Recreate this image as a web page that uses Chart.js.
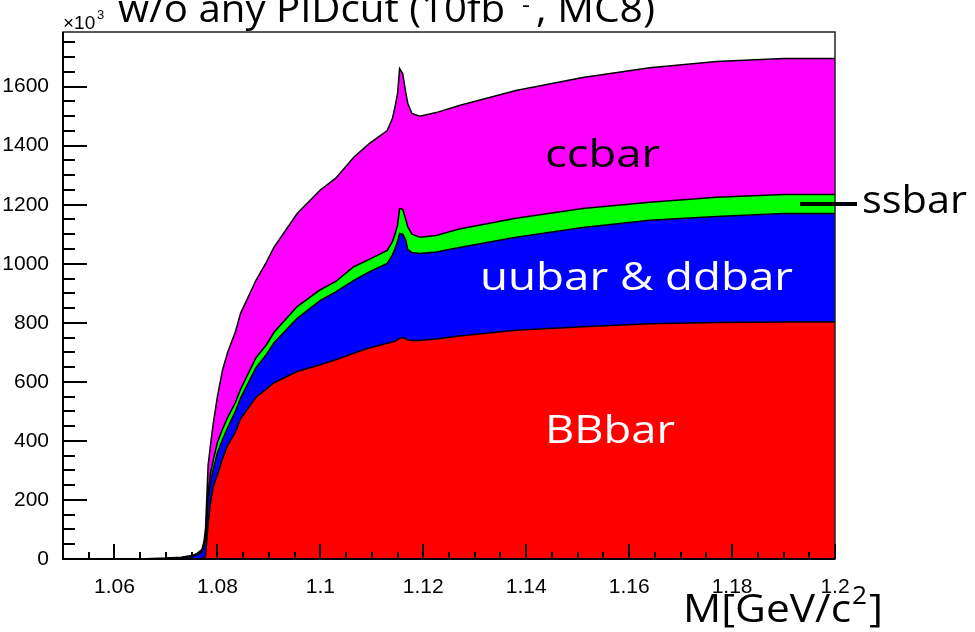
<!DOCTYPE html>
<html>
<head>
<meta charset="utf-8">
<script src="https://cdn.jsdelivr.net/npm/chart.js@4.4.0/dist/chart.umd.min.js"></script>
<style>
  html, body { margin: 0; padding: 0; background: #fff; }
  #wrap { width: 975px; height: 632px; }
</style>
</head>
<body>
<div id="wrap"><canvas id="chart" width="975" height="632"></canvas></div>
<script>
// M [GeV/c^2] sample points (histogram)
const massPoints = [1.05, 1.06, 1.066, 1.07, 1.073, 1.075, 1.076, 1.077, 1.0774, 1.0777,
  1.0782, 1.0787, 1.0792, 1.08, 1.081, 1.082, 1.0835, 1.0845, 1.0875, 1.0895, 1.091, 1.0955,
  1.1, 1.103, 1.1065, 1.1095, 1.113, 1.114, 1.1145, 1.115, 1.1154, 1.116, 1.1166,
  1.117, 1.1178, 1.1193, 1.1225, 1.127, 1.138, 1.151, 1.164, 1.177, 1.19, 1.2];

// entries per component (x10^3), stacked in this order
const bbbar = [0, 0, 0, 0, 0, 0, 1, 2, 4, 10,
  122, 195, 245, 285, 340, 385, 430, 475, 548, 575, 597, 635,
  658, 675, 697, 715, 731, 735, 738, 742, 748, 750, 746,
  742, 740, 740, 745, 755, 775, 787, 797, 801, 803, 803];
const uuddbar = [0, 0, 1, 2, 4, 8, 12, 22, 41, 52,
  83, 70, 60, 75, 65, 60, 70, 70, 100, 117, 136, 180,
  218, 230, 247, 257, 270, 295, 312, 333, 355, 350, 334,
  306, 298, 295, 295, 300, 315, 336, 350, 359, 367, 367];
const ssbar = [0, 0, 0, 0, 0, 1, 1, 2, 5, 6,
  20, 30, 30, 35, 35, 35, 30, 30, 34, 33, 35, 40,
  36, 35, 46, 43, 44, 45, 50, 55, 84, 85, 70,
  77, 62, 55, 56, 63, 64, 64, 61, 65, 65, 65];
const ccbar = [0, 0, 0, 1, 2, 3, 4, 6, 10, 37,
  93, 97, 125, 155, 200, 220, 240, 257, 262, 280, 288, 315,
  338, 350, 371, 392, 406, 417, 430, 446, 474, 459, 430,
  418, 409, 410, 416, 418, 433, 444, 456, 460, 460, 460];

const xTicks = [1.06, 1.08, 1.1, 1.12, 1.14, 1.16, 1.18, 1.2];
const yTicks = [0, 200, 400, 600, 800, 1000, 1200, 1400, 1600];

const X_MIN = 1.05, X_MAX = 1.2, Y_MAX = 1785;
const LABEL_FONT = '"Open Sans", "Noto Sans", sans-serif';
const TICK_FONT = '"Liberation Sans", Arial, sans-serif';

function series(values) {
  return massPoints.map((m, i) => ({ x: m, y: values[i] }));
}

function makeSet(label, values, color, fill) {
  return {
    label: label,
    data: series(values),
    backgroundColor: color,
    borderColor: '#000',
    borderWidth: 1.5,
    pointRadius: 0,
    tension: 0,
    fill: fill
  };
}

// draw text stretched to a given width (slide font is wider than Open Sans)
function wideText(ctx, text, left, base, size, width) {
  ctx.font = size + 'px ' + LABEL_FONT;
  const w = ctx.measureText(text).width;
  ctx.save();
  ctx.translate(left, base);
  ctx.scale(width / w, 1);
  ctx.fillText(text, 0, 0);
  ctx.restore();
}

// ROOT style frame with inward ticks
const rootFrame = {
  id: 'rootFrame',
  afterDraw(chart) {
    const { ctx, chartArea: a, scales: { x, y } } = chart;
    ctx.save();
    ctx.strokeStyle = '#222';
    ctx.lineWidth = 1.5;
    ctx.strokeRect(a.left, a.top, a.right - a.left, a.bottom - a.top);
    ctx.strokeStyle = '#000';
    ctx.lineWidth = 2;
    ctx.beginPath();
    ctx.moveTo(a.left, a.top);
    ctx.lineTo(a.left, a.bottom);
    ctx.lineTo(a.right, a.bottom);
    for (let i = 0; i <= 30; i++) {
      const v = X_MIN + i * 0.005;
      const px = Math.round(x.getPixelForValue(v));
      const len = (i % 4 === 2) ? 15 : 7;
      ctx.moveTo(px, a.bottom);
      ctx.lineTo(px, a.bottom - len);
    }
    for (let v = 0; v <= Y_MAX; v += 50) {
      const py = Math.round(y.getPixelForValue(v));
      const len = (v % 200 === 0) ? 24 : 12;
      ctx.moveTo(a.left, py);
      ctx.lineTo(a.left + len, py);
    }
    ctx.stroke();
    ctx.restore();
  }
};

const notes = {
  id: 'notes',
  afterDraw(chart) {
    const { ctx } = chart;
    ctx.save();
    ctx.fillStyle = '#000';
    ctx.textBaseline = 'alphabetic';
    ctx.textAlign = 'left';

    // title, its top clipped by the picture edge
    wideText(ctx, 'w/o any PIDcut (10fb', 118, 22, 39, 387);
    wideText(ctx, '-', 522, 13, 24, 8);
    wideText(ctx, '1', 530, 0, 24, 10);
    wideText(ctx, ', MC8)', 536, 22, 39, 119);

    // x10^3
    ctx.font = '19px ' + TICK_FONT;
    ctx.fillText('\u00d710', 63, 29);
    ctx.font = '13px ' + TICK_FONT;
    ctx.fillText('3', 97, 19);

    // component labels
    wideText(ctx, 'ccbar', 545, 167, 39, 115);
    wideText(ctx, 'ssbar', 862, 213, 39, 105);
    ctx.fillStyle = '#fff';
    wideText(ctx, 'uubar & ddbar', 480, 290, 39, 313);
    wideText(ctx, 'BBbar', 545, 443, 39, 130);

    // pointer to the ssbar band
    ctx.strokeStyle = '#000';
    ctx.lineWidth = 4;
    ctx.beginPath();
    ctx.moveTo(800, 204);
    ctx.lineTo(857, 204);
    ctx.stroke();

    // axis title
    ctx.fillStyle = '#000';
    wideText(ctx, 'M[GeV/c', 683, 622, 39, 168);
    wideText(ctx, '2', 852, 604, 25, 15);
    wideText(ctx, ']', 869, 622, 39, 14);
    ctx.restore();
  }
};

new Chart(document.getElementById('chart').getContext('2d'), {
  type: 'line',
  data: {
    datasets: [
      makeSet('BBbar', bbbar, '#ff0000', 'origin'),
      makeSet('uubar & ddbar', uuddbar, '#0000ff', '-1'),
      makeSet('ssbar', ssbar, '#00ff00', '-1'),
      makeSet('ccbar', ccbar, '#ff00ff', '-1')
    ]
  },
  options: {
    responsive: false,
    animation: false,
    layout: { padding: { left: 0, right: 140, top: 32, bottom: 0 } },
    plugins: {
      legend: { display: false },
      tooltip: { enabled: false }
    },
    scales: {
      x: {
        type: 'linear',
        min: X_MIN,
        max: X_MAX,
        grid: { display: false },
        border: { display: false },
        afterBuildTicks: s => { s.ticks = xTicks.map(v => ({ value: v })); },
        afterFit: s => { s.height = 73; },
        ticks: {
          autoSkip: false,
          maxRotation: 0,
          padding: 8,
          color: '#000',
          font: { family: TICK_FONT, size: 21 },
          callback: v => String(Number(v.toFixed(2)))
        }
      },
      y: {
        stacked: true,
        min: 0,
        max: Y_MAX,
        grid: { display: false },
        border: { display: false },
        afterBuildTicks: s => { s.ticks = yTicks.map(v => ({ value: v })); },
        afterFit: s => { s.width = 63; },
        ticks: {
          padding: 6,
          color: '#000',
          font: { family: TICK_FONT, size: 21 },
          callback: v => String(v)
        }
      }
    }
  },
  plugins: [rootFrame, notes]
});
</script>
</body>
</html>
